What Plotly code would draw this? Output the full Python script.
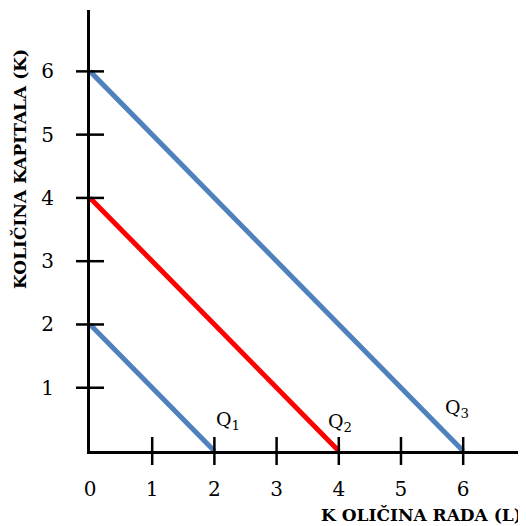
import plotly.graph_objects as go

# data
lines_x = [[0, 2], [0, 4], [0, 6]]
lines_y = [[2, 0], [4, 0], [6, 0]]
line_colors = ["#4F81BD", "#FF0000", "#4F81BD"]
labels = ["Q<sub>1</sub>", "Q<sub>2</sub>", "Q<sub>3</sub>"]
label_pos = [(2.22, 0.48), (4.02, 0.45), (5.9, 0.67)]
x_ticks = [0, 1, 2, 3, 4, 5, 6]
y_ticks = [1, 2, 3, 4, 5, 6]

fig = go.Figure()
for xs, ys, c in zip(lines_x, lines_y, line_colors):
    fig.add_trace(go.Scatter(x=xs, y=ys, mode="lines", line=dict(color=c, width=5),
                             showlegend=False, hoverinfo="skip"))

# crossing tick marks
fig.add_trace(go.Scatter(x=x_ticks[1:], y=[0]*6, mode="markers",
                         marker=dict(symbol="line-ns", size=20, line=dict(color="black", width=2.5)),
                         showlegend=False, cliponaxis=False, hoverinfo="skip"))
fig.add_trace(go.Scatter(x=[0]*6, y=y_ticks, mode="markers",
                         marker=dict(symbol="line-ew", size=20, line=dict(color="black", width=2.5)),
                         showlegend=False, cliponaxis=False, hoverinfo="skip"))

for t, (x, y) in zip(labels, label_pos):
    fig.add_annotation(x=x, y=y, text=t, showarrow=False,
                       font=dict(family="DejaVu Serif", size=19, color="black"))

fig.add_annotation(xref="paper", yref="paper", x=0.995, y=-0.145, xanchor="right", yanchor="middle",
                   text="<b>K OLIČINA RADA (L)</b>", showarrow=False,
                   font=dict(family="DejaVu Serif", size=17, color="black"))
fig.add_annotation(xref="paper", yref="paper", x=-0.16, y=0.64, xanchor="center", yanchor="middle",
                   text="<b>KOLIČINA KAPITALA (K)</b>", textangle=-90, showarrow=False,
                   font=dict(family="DejaVu Serif", size=17, color="black"))

fig.update_layout(
    width=518, height=518,
    margin=dict(l=82, r=0, t=2, b=75),
    plot_bgcolor="white", paper_bgcolor="white",
    font=dict(family="DejaVu Serif", size=20, color="black"),
)
fig.update_xaxes(range=[0, 7.01], tickvals=x_ticks, ticks="", showgrid=False, zeroline=False,
                 showline=True, linecolor="black", linewidth=3, ticklabelstandoff=18)
fig.update_yaxes(range=[0, 6.97], tickvals=y_ticks, ticks="", showgrid=False, zeroline=False,
                 showline=True, linecolor="black", linewidth=3, ticklabelstandoff=29)

fig.write_html("out.html")
